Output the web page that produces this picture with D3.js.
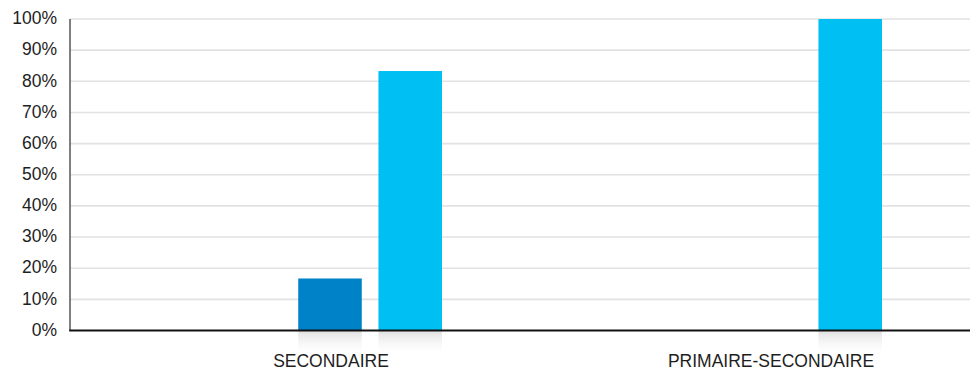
<!DOCTYPE html>
<html>
<head>
<meta charset="utf-8">
<script src="https://cdn.jsdelivr.net/npm/d3@7"></script>
<style>
  html, body { margin: 0; padding: 0; background: #fff; }
  svg { display: block; }
  text { font-family: "Helvetica Neue", Helvetica, "Liberation Sans", Arial, sans-serif; fill: #1e1e1e; }
</style>
</head>
<body>
<svg id="chart" width="970" height="371"></svg>
<script>
// ---- data ----
const categories = ["SECONDAIRE", "PRIMAIRE-SECONDAIRE"];
const seriesNames = ["S1", "S2", "S3"];
const seriesS1 = [0, 0];
const seriesS2 = [16.7, 0];
const seriesS3 = [83.3, 100];
const seriesColors = ["#5a5a5a", "#0082c8", "#00bff3"];
const yTicks = [0, 10, 20, 30, 40, 50, 60, 70, 80, 90, 100];
const yTickLabels = ["0%", "10%", "20%", "30%", "40%", "50%", "60%", "70%", "80%", "90%", "100%"];

const seriesValues = [seriesS1, seriesS2, seriesS3];

const svg = d3.select("#chart");
const W = 970, H = 371;
const axisX = 70, yTop = 19, yBottom = 330.5;

const y = d3.scaleLinear().domain([0, 100]).range([yBottom, yTop]);
const x0 = d3.scaleBand().domain(categories).range([110, 990]).paddingInner(0).paddingOuter(0);
const bw = x0.bandwidth();
const x1 = d3.scaleBand().domain(seriesNames).range([bw / 2 - 112, bw / 2 + 112]).paddingInner(0.208).paddingOuter(0);

// gradient for shadow under bars
const defs = svg.append("defs");
const grad = defs.append("linearGradient").attr("id", "shadow").attr("x1", 0).attr("y1", 0).attr("x2", 0).attr("y2", 1);
grad.append("stop").attr("offset", "0%").attr("stop-color", "#dcdcdc").attr("stop-opacity", 0.9);
grad.append("stop").attr("offset", "100%").attr("stop-color", "#ffffff").attr("stop-opacity", 0);

// gridlines
svg.append("g").selectAll("line").data(yTicks.filter(d => d > 0)).join("line")
  .attr("x1", axisX).attr("x2", W)
  .attr("y1", d => y(d)).attr("y2", d => y(d))
  .attr("stroke", "#e2e2e2").attr("stroke-width", 1.6);

// y tick labels
svg.append("g").selectAll("text").data(yTicks).join("text")
  .attr("x", 57).attr("y", d => y(d)).attr("dy", "0.3em")
  .attr("text-anchor", "end").attr("font-size", 17.5)
  .text((d, i) => yTickLabels[i]);

// bars
const flat = [];
categories.forEach((c, ci) => {
  seriesNames.forEach((s, si) => {
    flat.push({ cat: c, ser: s, v: seriesValues[si][ci], color: seriesColors[si] });
  });
});
const barsData = flat.filter(d => d.v > 0);

// shadows
svg.append("g").selectAll("rect").data(barsData).join("rect")
  .attr("x", d => x0(d.cat) + x1(d.ser))
  .attr("y", yBottom)
  .attr("width", x1.bandwidth())
  .attr("height", 26)
  .attr("fill", "url(#shadow)");

svg.append("g").selectAll("rect").data(barsData).join("rect")
  .attr("x", d => x0(d.cat) + x1(d.ser))
  .attr("y", d => y(d.v))
  .attr("width", x1.bandwidth())
  .attr("height", d => yBottom - y(d.v))
  .attr("fill", d => d.color);

// y axis line
svg.append("line").attr("x1", axisX).attr("x2", axisX).attr("y1", yTop).attr("y2", yBottom)
  .attr("stroke", "#555").attr("stroke-width", 1.5);
// baseline
svg.append("line").attr("x1", axisX - 0.75).attr("x2", W).attr("y1", yBottom).attr("y2", yBottom)
  .attr("stroke", "#111").attr("stroke-width", 2);

// category labels
svg.append("g").selectAll("text").data(categories).join("text")
  .attr("x", d => x0(d) + bw / 2 + 1)
  .attr("y", 367)
  .attr("text-anchor", "middle").attr("font-size", 17.5)
  .text(d => d);
</script>
</body>
</html>
